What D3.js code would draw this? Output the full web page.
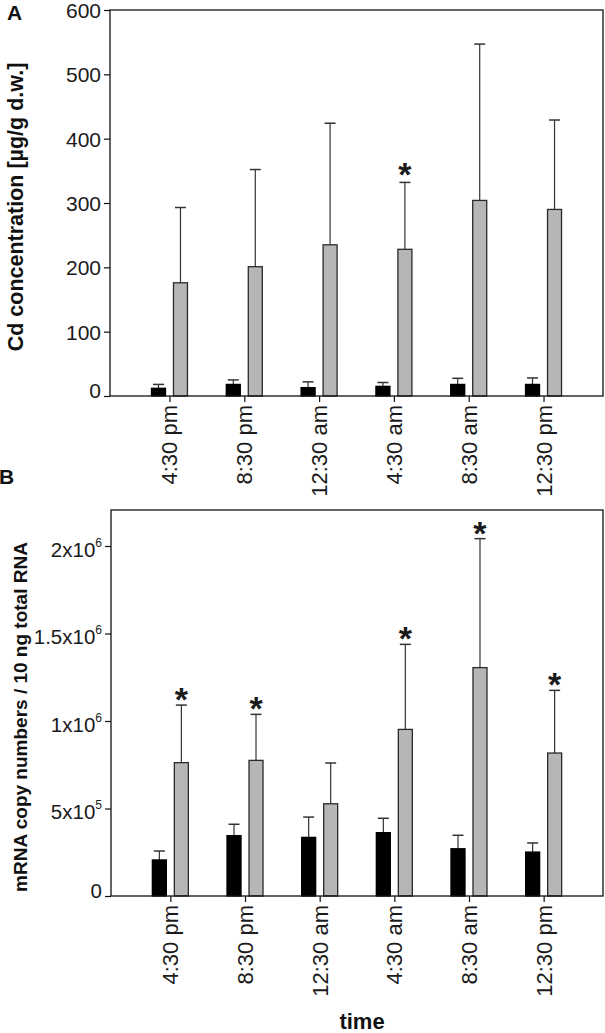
<!DOCTYPE html>
<html>
<head>
<meta charset="utf-8">
<script src="https://cdn.jsdelivr.net/npm/d3@7/dist/d3.min.js"></script>
<style>
  html, body { margin: 0; padding: 0; background: #fff; }
  svg { display: block; font-family: "Liberation Sans", Arial, Helvetica, sans-serif; }
</style>
</head>
<body>
<svg id="chart" width="605" height="1033"></svg>
<script>
// ---------- data ----------
const categories = ["4:30 pm", "8:30 pm", "12:30 am", "4:30 am", "8:30 am", "12:30 pm"];

// Panel A: Cd concentration [µg/g d.w.]
const cdControl     = [12, 18, 13, 15, 18, 18];
const cdControlErr  = [6, 7, 9, 6, 9.5, 10];
const cdTreated     = [176, 201, 235, 228, 304, 290];
const cdTreatedErr  = [117, 151, 189, 104, 243, 139];
const cdSignificant = [false, false, false, true, false, false];
const cdTicks       = [0, 100, 200, 300, 400, 500, 600];

// Panel B: mRNA copy numbers / 10 ng total RNA
const mrnaControl     = [206000, 345000, 335000, 362000, 270000, 251000];
const mrnaControlErr  = [51000, 65000, 116000, 82000, 77000, 52000];
const mrnaTreated     = [762000, 775000, 527000, 952000, 1305000, 817000];
const mrnaTreatedErr  = [329000, 263000, 233000, 486000, 737000, 358000];
const mrnaSignificant = [true, true, false, true, true, true];
const mrnaTicks       = [0, 500000, 1000000, 1500000, 2000000];
const mrnaTickLabels  = [["0", ""], ["5x10", "5"], ["1x10", "6"], ["1.5x10", "6"], ["2x10", "6"]];

// ---------- drawing ----------
const svg = d3.select("#chart");
const FONT = '"Liberation Sans", Arial, Helvetica, sans-serif';

function drawPanel(o) {
  const g = svg.append("g");
  const x = d3.scalePoint().domain(categories).range([o.left, o.right]).padding(0.795);
  const y = d3.scaleLinear().domain(o.domain).range([o.bottom, o.top]);

  const barW = 14, off = 4;
  const series = [
    { vals: o.control, errs: o.controlErr, fill: "#000", stroke: "#000", dx: -off - barW },
    { vals: o.treated, errs: o.treatedErr, fill: "#b6b6b6", stroke: "#2a2a2a", dx: off }
  ];
  series.forEach(s => {
    const eg = g.append("g").attr("stroke", "#333").attr("stroke-width", 1.2);
    categories.forEach((c, i) => {
      const cx = x(c) + s.dx + barW / 2;
      const yt = y(s.vals[i] + s.errs[i]);
      eg.append("line").attr("x1", cx).attr("x2", cx).attr("y1", y(s.vals[i])).attr("y2", yt);
      eg.append("line").attr("x1", cx - 5.5).attr("x2", cx + 5.5).attr("y1", yt).attr("y2", yt)
        .attr("stroke-width", 1.5);
    });
    g.append("g").selectAll("rect").data(categories).join("rect")
      .attr("x", c => x(c) + s.dx)
      .attr("y", (c, i) => y(s.vals[i]))
      .attr("width", barW)
      .attr("height", (c, i) => o.bottom - y(s.vals[i]))
      .attr("fill", s.fill)
      .attr("stroke", s.stroke)
      .attr("stroke-width", 1.3);
  });

  categories.forEach((c, i) => {
    if (!o.sig[i]) return;
    const cx = x(c) + off + barW / 2;
    g.append("text").attr("x", cx).attr("y", y(o.treated[i] + o.treatedErr[i]) + o.starDy)
      .attr("text-anchor", "middle").style("font-size", "34px").attr("font-weight", "bold")
      .attr("fill", "#1a1a1a").attr("font-family", FONT).text("*");
  });

  g.append("rect").attr("x", o.left).attr("y", o.top)
    .attr("width", o.right - o.left).attr("height", o.bottom - o.top)
    .attr("fill", "none").attr("stroke", "#111").attr("stroke-width", 1.3);

  const ya = g.append("g").attr("transform", `translate(${o.left},0)`)
    .call(d3.axisLeft(y).tickValues(o.ticks).tickSize(6).tickPadding(3).tickFormat(() => ""));
  ya.select(".domain").remove();
  ya.selectAll("line").attr("stroke", "#111").attr("stroke-width", 1.2);
  ya.selectAll(".tick text").each(function (d, i) {
    const lab = o.labels[i];
    const t = d3.select(this).style("font-size", o.yFont + "px").attr("fill", "#1a1a1a").attr("font-family", FONT)
      .attr("dy", d === 0 ? "0.05em" : (lab[1] ? "0.5em" : "0.35em"));
    t.text(null);
    t.append("tspan").text(lab[0]);
    if (lab[1]) {
      t.append("tspan").style("font-size", "12px").attr("dy", "-0.85em").text(lab[1]);
    }
  });

  const xa = g.append("g").attr("transform", `translate(0,${o.bottom})`)
    .call(d3.axisBottom(x).tickSize(6).tickPadding(0));
  xa.select(".domain").remove();
  xa.selectAll("line").attr("stroke", "#111").attr("stroke-width", 1.2);
  xa.selectAll(".tick text")
    .style("font-size", "22px").attr("fill", "#1a1a1a").attr("font-family", FONT)
    .attr("text-anchor", "end")
    .attr("transform", "rotate(-90)")
    .attr("x", -9).attr("y", 0).attr("dy", "0.34em");

  g.append("text")
    .attr("transform", `translate(${o.titleX},${o.titleY}) rotate(-90)`)
    .attr("text-anchor", "middle").style("font-size", o.titleFont + "px").attr("font-weight", "bold")
    .attr("fill", "#111").attr("font-family", FONT).text(o.title);

  g.append("text").attr("x", o.letterX).attr("y", o.letterY)
    .style("font-size", "21px").attr("font-weight", "bold").attr("fill", "#111")
    .attr("font-family", FONT).text(o.letter);
}

drawPanel({
  left: 110, right: 603, top: 10, bottom: 396, domain: [0, 600],
  ticks: cdTicks, labels: cdTicks.map(v => [String(v), ""]), yFont: 21,
  control: cdControl, controlErr: cdControlErr,
  treated: cdTreated, treatedErr: cdTreatedErr, sig: cdSignificant, starDy: 4,
  title: "Cd concentration [µg/g d.w.]", titleX: 23, titleY: 207, titleFont: 21.5,
  letter: "A", letterX: 7, letterY: 20
});

drawPanel({
  left: 111, right: 603, top: 510, bottom: 896, domain: [0, 2205714],
  ticks: mrnaTicks, labels: mrnaTickLabels, yFont: 20.5,
  control: mrnaControl, controlErr: mrnaControlErr,
  treated: mrnaTreated, treatedErr: mrnaTreatedErr, sig: mrnaSignificant, starDy: 6,
  title: "mRNA copy numbers / 10 ng total RNA", titleX: 27, titleY: 717, titleFont: 19,
  letter: "B", letterX: -1, letterY: 484
});

svg.append("text").attr("x", 362).attr("y", 1029)
  .attr("text-anchor", "middle").style("font-size", "22px").attr("font-weight", "bold")
  .attr("fill", "#111").attr("font-family", FONT).text("time");
</script>
</body>
</html>
